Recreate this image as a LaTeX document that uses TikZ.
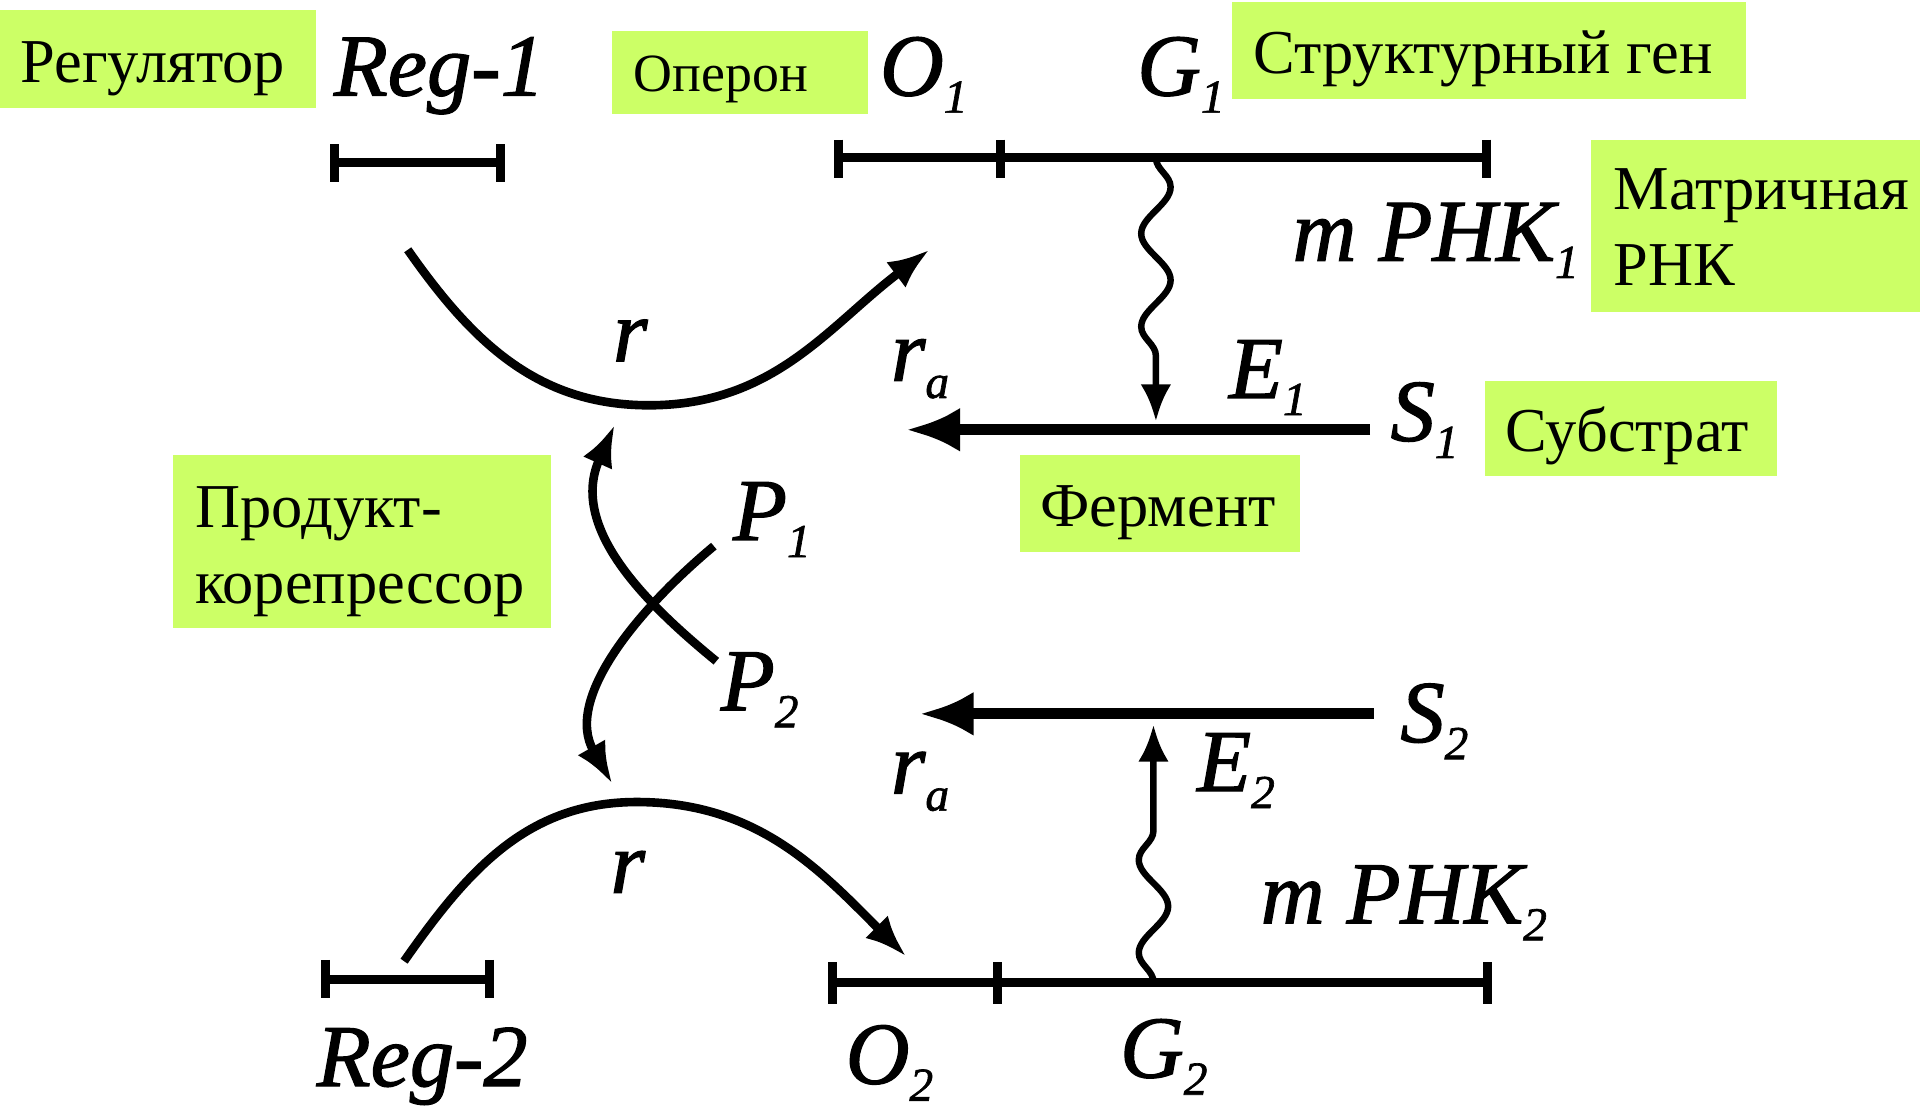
\documentclass[tikz,border=0pt]{standalone}
\usepackage{fontspec}
\setmainfont{Liberation Serif}
\newfontfamily\labfont[FakeBold=1.4]{Liberation Serif}
\usetikzlibrary{arrows.meta,decorations.pathmorphing}
\definecolor{lime}{RGB}{204,255,102}
\newcommand\sbs[2]{#1\raisebox{-0.14cm}{\fontsize{11}{11}\selectfont #2}}
\begin{document}
\begin{tikzpicture}[x=0.01cm, y=-0.01cm,
  gfill/.style={fill=lime},
  gtext/.style={font=\fontsize{14.5}{17.6}\selectfont, inner sep=0, anchor=base west},
  gtwo/.style={font=\fontsize{14.5}{17.6}\selectfont, inner sep=0, anchor=north west, align=left},
  lab/.style={font=\labfont\itshape\fontsize{20.5}{22}\selectfont, inner sep=0, anchor=base west},
  bar/.style={line width=2.1pt},
  harr/.style={line width=2.5pt, -{Latex[length=0.44cm,width=0.36cm]}},
  carr/.style={line width=2pt, -{Latex[length=0.34cm,width=0.26cm]}},
  warr/.style={line width=1.5pt, -{Latex[length=0.3cm,width=0.25cm]}, decorate,
     decoration={snake, amplitude=0.12cm, segment length=0.76cm, post length=#1}},
]
\useasboundingbox (0,0) rectangle (1568,904);

% green label boxes
\path[gfill] (0,8) rectangle (258,88);
\path[gfill] (500,25) rectangle (709,93);
\path[gfill] (1006,2) rectangle (1426,81);
\path[gfill] (1299,114) rectangle (1568,255);
\path[gfill] (1213,311) rectangle (1451,389);
\path[gfill] (833,372) rectangle (1062,451);
\path[gfill] (141,372) rectangle (450,513);

\node[gtext] (tReg) at (16,67) {Регулятор};
\node[gtext, font=\fontsize{12.5}{15}\selectfont] (tOp) at (517,75) {Оперон};
\node[gtext] (tStr) at (1023,60) {Структурный ген};
\node[gtwo] (tMat) at (1317,137) {Матричная\\РНК};
\node[gtext] (tSub) at (1229,369) {Субстрат};
\node[gtext] (tFer) at (849,430) {Фермент};
\node[gtwo] (tPro) at (159,397) {Продукт-\\корепрессор};

% italic labels
\node[lab] (reg1) at (272,78) {Reg-1};
\node[lab] (o1) at (718,78) {\sbs{O}{1}};
\node[lab] (g1) at (928,78) {\sbs{G}{1}};
\node[lab] (mr1) at (1055,213) {m \sbs{PHK}{1}};
\node[lab] (r1) at (500,295) {r};
\node[lab] (ra1) at (727,311) {\sbs{r}{a}};
\node[lab] (e1) at (1003,325) {\sbs{E}{1}};
\node[lab] (s1) at (1135,360) {\sbs{S}{1}};
\node[lab] (p1) at (598,441) {\sbs{P}{1}};
\node[lab] (p2) at (588,580) {\sbs{P}{2}};
\node[lab] (s2) at (1143,606) {\sbs{S}{2}};
\node[lab] (e2) at (977,646) {\sbs{E}{2}};
\node[lab] (ra2) at (727,648) {\sbs{r}{a}};
\node[lab] (r2) at (498,729) {r};
\node[lab] (mr2) at (1029,754) {m \sbs{PHK}{2}};
\node[lab] (reg2) at (258,887) {Reg-2};
\node[lab] (o2) at (690,885) {\sbs{O}{2}};
\node[lab] (g2) at (914,880) {\sbs{G}{2}};

% gene bars
\draw[bar] (273,133) -- (409,133);
\draw[bar] (273,118) -- (273,149);
\draw[bar] (409,118) -- (409,149);
\draw[bar] (685,129) -- (1214,129);
\draw[bar] (685,114) -- (685,145);
\draw[bar] (817,114) -- (817,145);
\draw[bar] (1214,114) -- (1214,145);

\draw[bar] (266,800) -- (400,800);
\draw[bar] (266,784) -- (266,815);
\draw[bar] (400,784) -- (400,815);
\draw[bar] (680,802) -- (1215,802);
\draw[bar] (680,786) -- (680,820);
\draw[bar] (815,786) -- (815,820);
\draw[bar] (1215,786) -- (1215,820);

% connector end points
\coordinate (w1s) at (944,129);
\coordinate (w1e) at (944,344);
\coordinate (w2s) at (942,802);
\coordinate (w2e) at (942,592);
\coordinate (h1s) at (1119,351);
\coordinate (h1e) at (740,351);
\coordinate (h2s) at (1122,583);
\coordinate (h2e) at (751,583);
\coordinate (u1s) at (333,204);
\coordinate (u1m) at (530,331);
\coordinate (u1e) at (759,204);
\coordinate (l1s) at (330,785);
\coordinate (l1m) at (520,655);
\coordinate (l1e) at (740,781);
\coordinate (cAs) at (583,446);
\coordinate (cAe) at (500,640);
\coordinate (cBs) at (585,540);
\coordinate (cBe) at (502,347);

% arrows
\draw[warr=0.52cm] (w1s) -- (w1e);
\draw[warr=0.55cm] (w2s) -- (w2e);
\draw[harr] (h1s) -- (h1e);
\draw[harr] (h2s) -- (h2e);
\draw[carr] (u1s) to[out=-55,in=180] (u1m) to[out=0,in=-143] (u1e);
\draw[carr] (l1s) to[out=55,in=180] (l1m) to[out=0,in=135] (l1e);
\draw[carr] (cAs) .. controls (523,496) and (460,570) .. (cAe);
\draw[carr] (cBs) .. controls (525,491) and (465,430) .. (cBe);
\end{tikzpicture}
\end{document}
